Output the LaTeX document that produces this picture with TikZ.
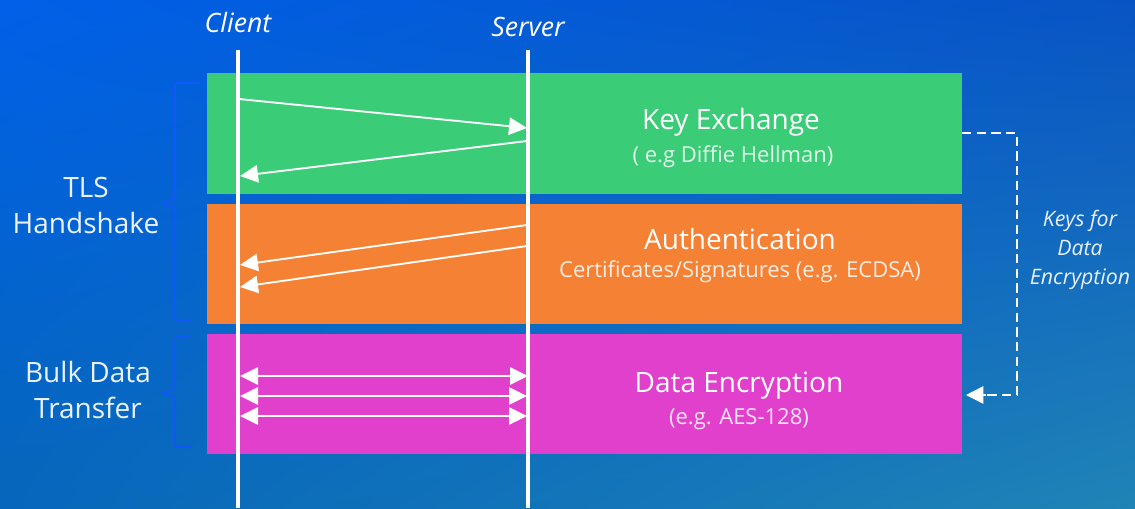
\documentclass[tikz,border=0pt]{standalone}
\usepackage{fontspec}
\setmainfont{Open Sans}
\usetikzlibrary{arrows.meta,shadings}
\definecolor{bgTL}{RGB}{0,96,232}
\definecolor{bgTR}{RGB}{8,84,196}
\definecolor{bgBL}{RGB}{6,102,186}
\definecolor{bgBR}{RGB}{32,132,182}
\definecolor{kxgreen}{RGB}{58,204,118}
\definecolor{authorange}{RGB}{244,129,52}
\definecolor{encmagenta}{RGB}{224,64,204}
\definecolor{bracecol}{RGB}{16,88,250}
\tikzset{
  x=0.75pt, y=-0.75pt,
  tip/.style={Triangle[length=13.5pt,width=13pt]},
  band/.style={fill=#1, draw=none},
  lifeline/.style={draw=white, line width=3pt},
  msg/.style={draw=white, line width=1.4pt, -{Triangle[length=13.5pt,width=13pt]}},
  dmsg/.style={draw=white, line width=1.4pt, {Triangle[length=13.5pt,width=13pt]}-{Triangle[length=13.5pt,width=13pt]}},
  keyflow/.style={draw=white, line width=1.2pt, dash pattern=on 7pt off 4pt},
  bracepath/.style={draw=bracecol, line width=1.2pt, rounded corners=2pt},
  title/.style={text=white, font=\fontsize{21}{24}\selectfont, inner sep=0pt},
  subtitle/.style={text=white, text opacity=0.85, font=\fontsize{16.5}{19}\selectfont, inner sep=0pt},
  side/.style={text=white, text opacity=0.92, font=\fontsize{21}{27}\selectfont, align=center, inner sep=0pt},
  actor/.style={text=white, font=\itshape\fontsize{20}{24}\selectfont, inner sep=0pt},
  keynote/.style={text=white, text opacity=0.9, font=\itshape\fontsize{16}{21.5}\selectfont, align=center, inner sep=0pt}
}
\begin{document}
\begin{tikzpicture}
  % background
  \shade[upper left=bgTL, upper right=bgTR, lower left=bgBL, lower right=bgBR]
    (0,0) rectangle (1135,508);
  \useasboundingbox (0,0) rectangle (1135,508);

  % protocol phases
  \path[band=kxgreen] (207,73) rectangle (962,194);
  \path[band=authorange] (207,204) rectangle (962,324);
  \path[band=encmagenta] (207,334) rectangle (962,454);

  % lifelines
  \node[actor] (client) at (238,22) {Client};
  \node[actor] (server) at (528,27) {Server};
  \coordinate (cTop) at (238,50);
  \coordinate (cBot) at (238,508);
  \coordinate (sTop) at (528,50);
  \coordinate (sBot) at (528,508);
  \draw[lifeline] (cTop) -- (cBot);
  \draw[lifeline] (sTop) -- (sBot);

  % message endpoints
  \coordinate (m1a) at (239,99);  \coordinate (m1b) at (527,128);
  \coordinate (m2a) at (527,141); \coordinate (m2b) at (240,176);
  \coordinate (m3a) at (527,225); \coordinate (m3b) at (240,265);
  \coordinate (m4a) at (527,246); \coordinate (m4b) at (240,287);
  \coordinate (d1a) at (240,376); \coordinate (d1b) at (528,376);
  \coordinate (d2a) at (240,396); \coordinate (d2b) at (527,396);
  \coordinate (d3a) at (240,416); \coordinate (d3b) at (527,416);

  \draw[msg] (m1a) -- (m1b);
  \draw[msg] (m2a) -- (m2b);
  \draw[msg] (m3a) -- (m3b);
  \draw[msg] (m4a) -- (m4b);
  \draw[dmsg] (d1a) -- (d1b);
  \draw[dmsg] (d2a) -- (d2b);
  \draw[dmsg] (d3a) -- (d3b);

  % phase labels
  \node[title] (kx) at (731,122) {Key Exchange};
  \node[subtitle] (kxs) at (733,157) {( e.g Diffie Hellman)};
  \node[title] (au) at (740,239) {Authentication};
  \node[subtitle] (aus) at (740,272) {Certificates/Signatures (e.g. ECDSA)};
  \node[title] (de) at (739,386) {Data Encryption};
  \node[subtitle] (des) at (739,419) {(e.g. AES-128)};

  % keys handed from key exchange to data encryption
  \coordinate (kOut) at (962,133);
  \coordinate (kIn) at (966,395);
  \draw[keyflow] (kOut) -- (1017,133) -- (1017,395) -- (985,395);
  \draw[draw=white, line width=1.2pt, -{Triangle[length=13pt,width=13pt]}] (986,395) -- (kIn);
  \node[keynote] (keys) at (1080,250) {Keys for\\Data\\Encryption};

  % grouping braces
  \draw[bracepath] (200,83) -- (175,83) -- (175,199) -- (161,203) -- (175,207) -- (175,321) -- (191,321);
  \draw[bracepath] (190,337) -- (175,337) -- (175,389) -- (161,393) -- (175,397) -- (175,447) -- (191,447);
  \node[side] (tls) at (86,205) {TLS\\Handshake};
  \node[side] (bulk) at (88,390) {Bulk Data\\Transfer};
\end{tikzpicture}
\end{document}
